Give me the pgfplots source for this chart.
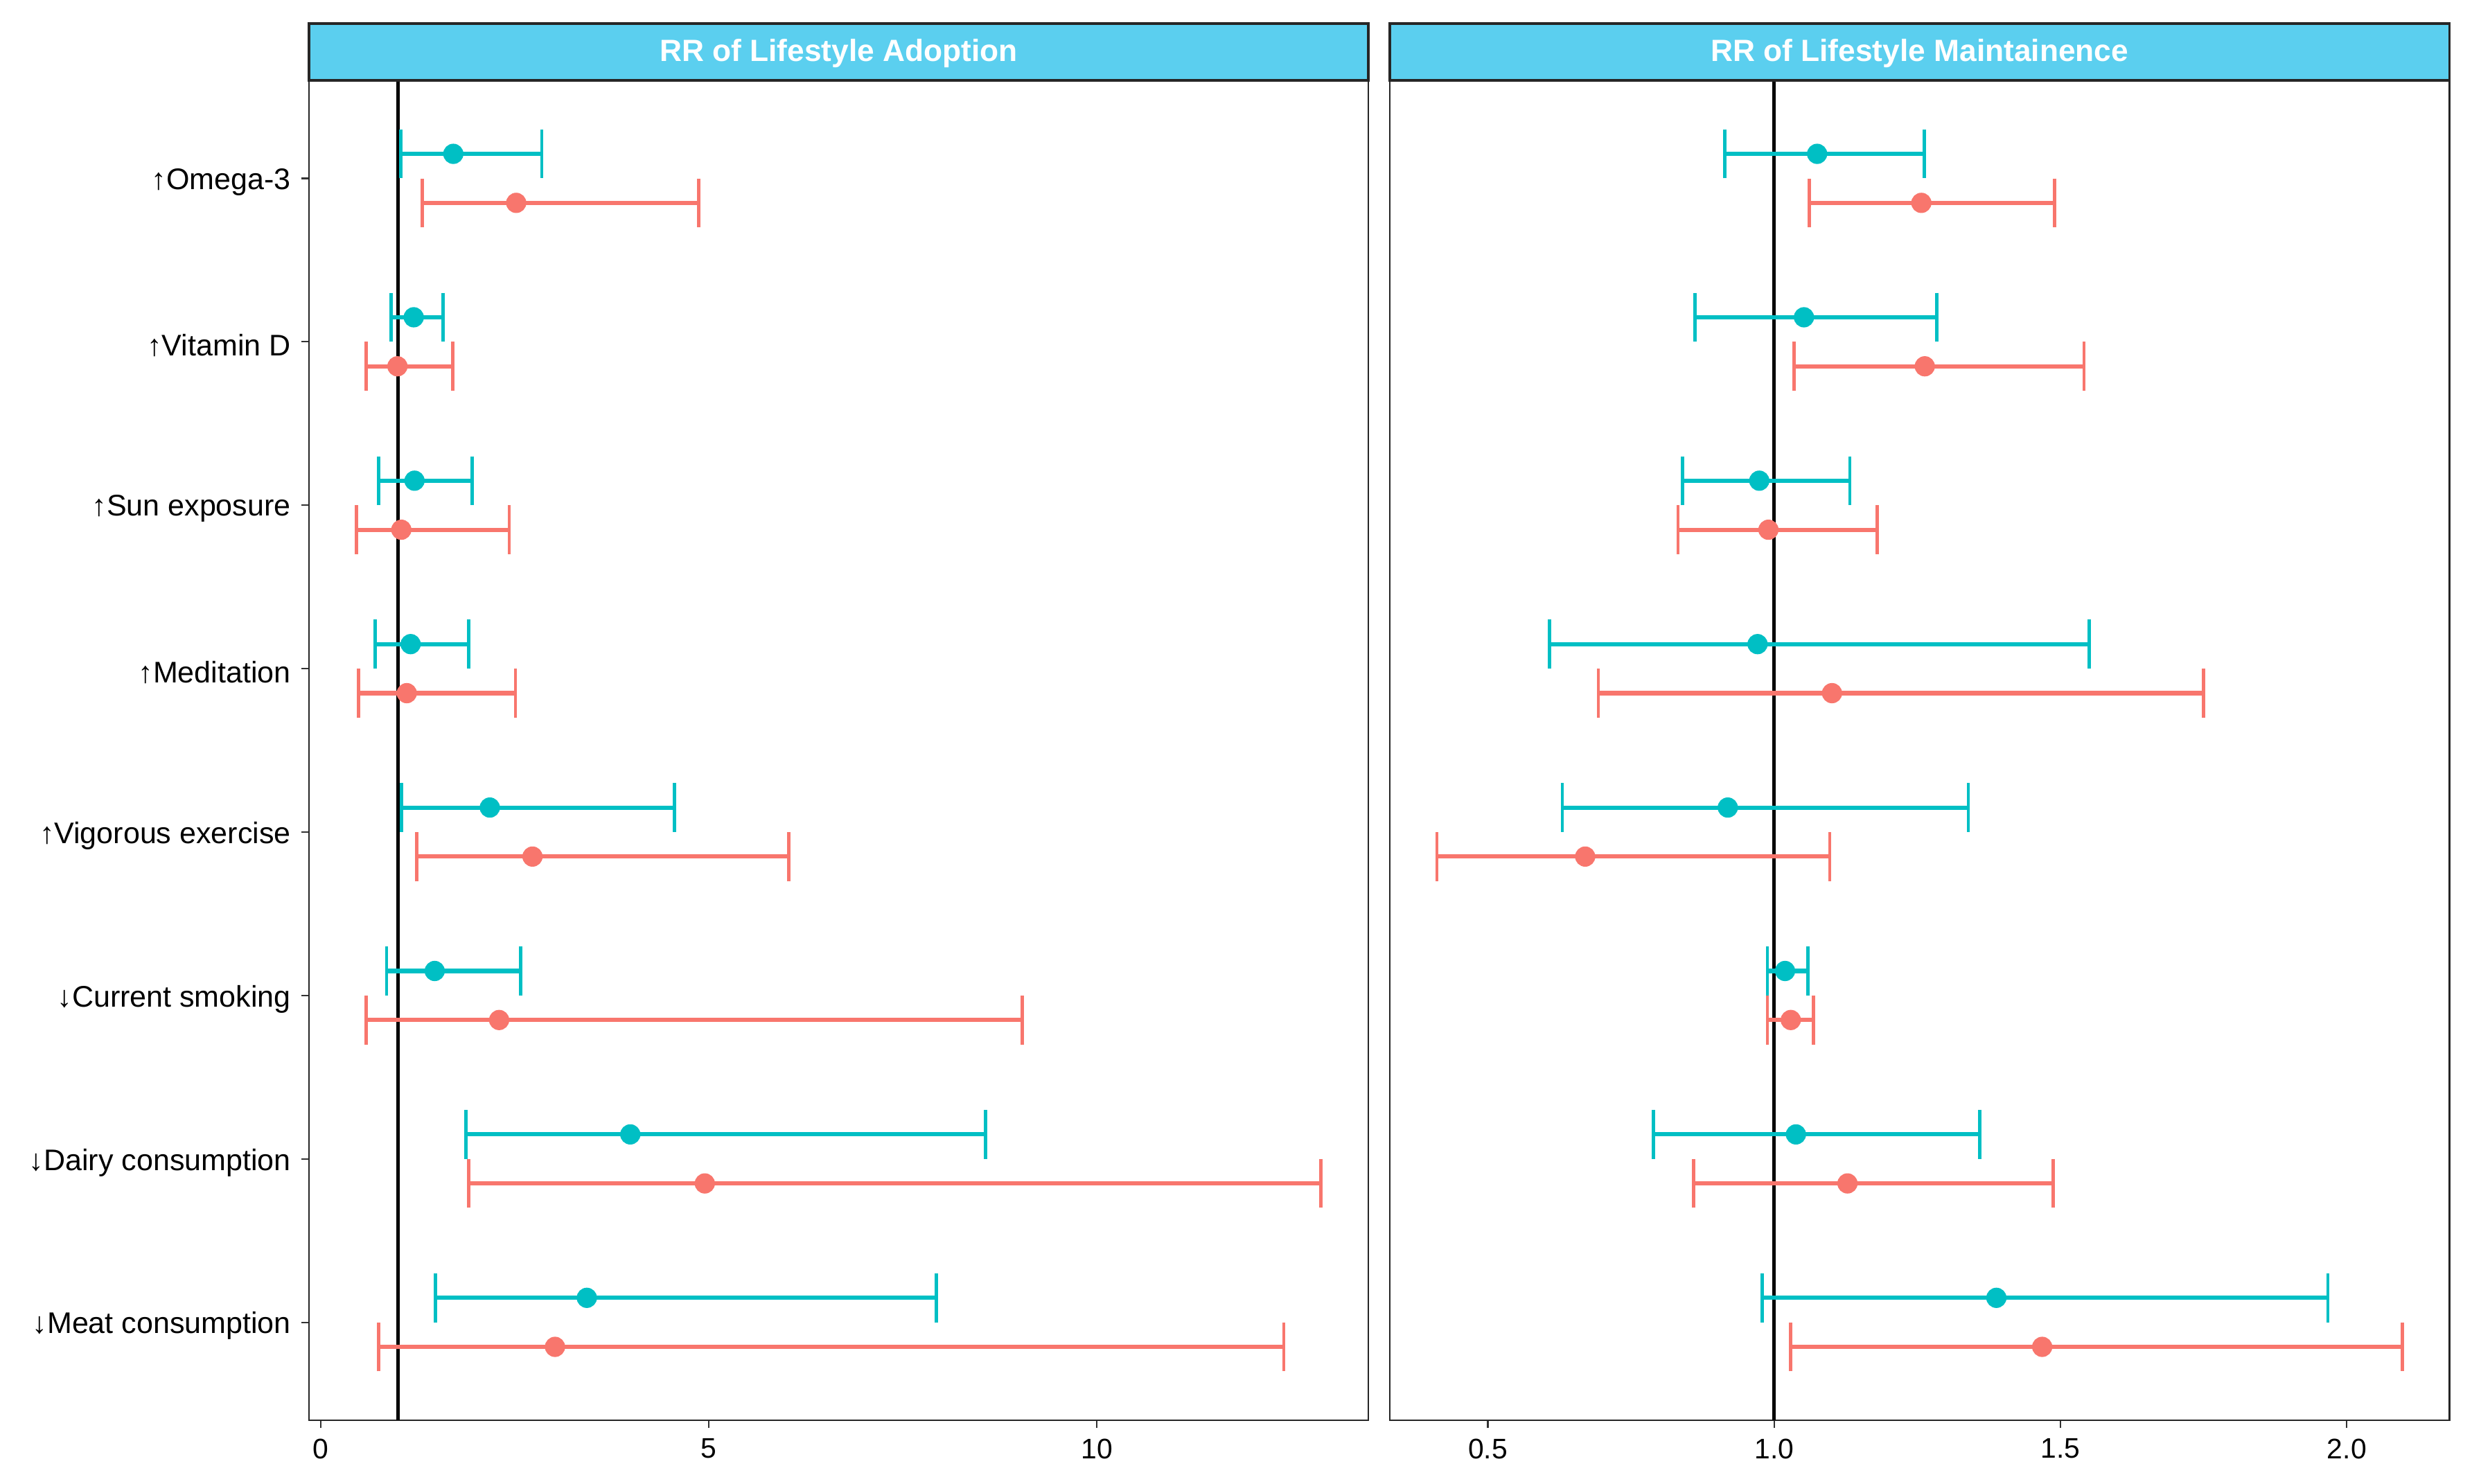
\documentclass[border=0pt]{standalone}
\usepackage{fontspec}
\setmainfont{Liberation Sans}
\usepackage{pgfplots}
\pgfplotsset{compat=1.18}
\usepackage{pgfplotstable}
\definecolor{tealc}{HTML}{00BFC4}
\definecolor{redc}{HTML}{F8766D}
\definecolor{stripc}{HTML}{5BCFEF}

% adoption (left panel); y = category position +/- 0.15
\pgfplotstableread{
y lo est hi
8.15 1.03 1.71 2.85
7.15 0.91 1.20 1.58
6.15 0.75 1.21 1.95
5.15 0.70 1.16 1.91
4.15 1.04 2.18 4.56
3.15 0.85 1.47 2.58
2.15 1.87 3.99 8.57
1.15 1.48 3.43 7.93
}\adoptT
\pgfplotstableread{
y lo est hi
7.85 1.31 2.52 4.87
6.85 0.59 0.99 1.70
5.85 0.46 1.04 2.43
4.85 0.49 1.11 2.51
3.85 1.24 2.73 6.03
2.85 0.59 2.30 9.04
1.85 1.91 4.95 12.89
0.85 0.75 3.02 12.41
}\adoptR
% maintenance (right panel)
\pgfplotstableread{
y lo est hi
8.15 0.914 1.075 1.262
7.15 0.862 1.052 1.284
6.15 0.840 0.974 1.132
5.15 0.608 0.971 1.550
4.15 0.630 0.919 1.339
3.15 0.988 1.019 1.059
2.15 0.789 1.038 1.359
1.15 0.979 1.388 1.967
}\maintT
\pgfplotstableread{
y lo est hi
7.85 1.061 1.257 1.490
6.85 1.035 1.263 1.541
5.85 0.832 0.990 1.180
4.85 0.693 1.101 1.750
3.85 0.411 0.670 1.097
2.85 0.988 1.029 1.069
1.85 0.859 1.128 1.487
0.85 1.029 1.468 2.097
}\maintR

\pgfplotsset{
  panel/.style={
    scale only axis, width=355.6pt, height=449.8pt,
    ymin=0.4, ymax=8.6,
    tick align=outside, xtick pos=bottom, ytick pos=left,
    major tick length=2.6pt,
    tick style={line width=0.5pt, color=black!80},
    axis line style={line width=0.6pt, black!85},
    tick label style={black},
    xticklabel style={font=\fontsize{9.5}{11}\selectfont},
    yticklabel style={font=\fontsize{10}{12}\selectfont, yshift=-1.2pt},
    /pgf/number format/assume math mode=true,
    clip=false,
  },
  ci/.style={
    color=#1, only marks, mark=*, mark size=3.2pt,
    mark options={draw=none, fill=#1},
    error bars/.cd, x dir=both, x explicit,
    error bar style={line width=1.4pt, color=#1},
    error mark options={rotate=90, line width=1.1pt, mark size=8.2pt, color=#1},
  },
}

\newcommand{\ciplot}[2]{%
  \addplot[ci=#1] table[x=est, y=y,
    x error plus expr=\thisrow{hi}-\thisrow{est},
    x error minus expr=\thisrow{est}-\thisrow{lo}] {#2};}

\begin{document}
\begin{tikzpicture}
\useasboundingbox (-103.7pt,-21.2pt) rectangle (726pt,476.75pt);

\begin{axis}[panel, name=ax1, at={(0pt,0pt)}, anchor=south west,
  xmin=-0.15, xmax=13.5, xtick={0,5,10},
  ytick={1,2,3,4,5,6,7,8},
  yticklabels={{↓Meat consumption},{↓Dairy consumption},{↓Current smoking},{↑Vigorous exercise},{↑Meditation},{↑Sun exposure},{↑Vitamin D},{↑Omega-3}},
]
\draw[black, line width=1.1pt] (axis cs:1,0.4) -- (axis cs:1,8.6);
\ciplot{tealc}{\adoptT}
\ciplot{redc}{\adoptR}
\end{axis}

\begin{axis}[panel, name=ax2, at={(362.8pt,0pt)}, anchor=south west,
  xmin=0.329, xmax=2.179, xtick={0.5,1,1.5,2},
  xticklabels={0.5,1.0,1.5,2.0},
  ytick=\empty,
]
\draw[black, line width=1.1pt] (axis cs:1,0.4) -- (axis cs:1,8.6);
\ciplot{tealc}{\maintT}
\ciplot{redc}{\maintR}
\end{axis}

\draw[fill=stripc, draw=black!85, line width=0.8pt] (ax1.north west) rectangle ++(355.6pt,19.05pt)
  node[midway, yshift=-0.5pt, text=white, font=\fontsize{10.3}{12}\selectfont\bfseries] {RR of Lifestyle Adoption};
\draw[fill=stripc, draw=black!85, line width=0.8pt] (ax2.north west) rectangle ++(355.6pt,19.05pt)
  node[midway, yshift=-0.5pt, text=white, font=\fontsize{10.3}{12}\selectfont\bfseries] {RR of Lifestyle Maintainence};
\end{tikzpicture}
\end{document}
